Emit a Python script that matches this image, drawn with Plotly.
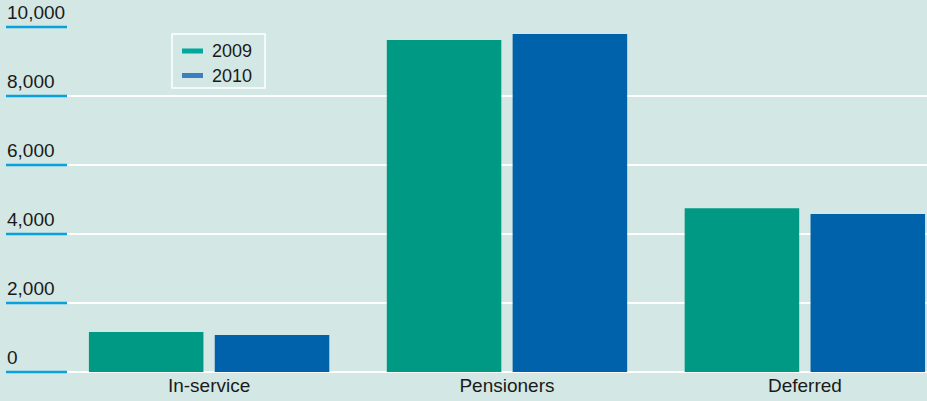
import plotly.graph_objects as go

categories = ["In-service", "Pensioners", "Deferred"]
series_names = ["2009", "2010"]
values_2009 = [1160, 9620, 4750]
values_2010 = [1070, 9800, 4580]
tick_values = [0, 2000, 4000, 6000, 8000, 10000]
tick_labels = ["0", "2,000", "4,000", "6,000", "8,000", "10,000"]
y_max = 10000

bar_colors = ["#009a84", "#0062aa"]
legend_colors = ["#00a99d", "#3d7ec0"]
bg = "#d3e8e4"
tick_blue = "#0aa0dc"
font_family = "Liberation Sans, Arial, sans-serif"
text_color = "#1a1a1a"

W, H = 927, 401
ML, MR, MT, MB = 67, 0, 27, 29
PW, PH = W - ML - MR, H - MT - MB


def px(x):
    return (x - ML) / PW


def py(y):
    return (H - MB - y) / PH


fig = go.Figure()
for name, vals, col in zip(series_names, [values_2009, values_2010], bar_colors):
    fig.add_trace(go.Bar(x=categories, y=vals, name=name, marker=dict(color=col, line=dict(width=0)),
                         showlegend=False))

shapes = []
annotations = []
# left blue tick marks and labels above them (paper coords derived from axis range)
for v, lab in zip(tick_values, tick_labels):
    yp = v / y_max
    shapes.append(dict(type="line", xref="paper", yref="paper", x0=px(6), x1=0, y0=yp, y1=yp,
                       line=dict(color=tick_blue, width=2.5)))
    annotations.append(dict(xref="paper", yref="paper", x=px(5), y=yp, text=lab, showarrow=False,
                            xanchor="left", yanchor="bottom", yshift=2,
                            font=dict(family=font_family, size=19, color=text_color)))

# legend box
shapes.append(dict(type="rect", xref="paper", yref="paper", x0=px(172), x1=px(265), y0=py(88), y1=py(34),
                   line=dict(color="white", width=1.5), fillcolor="rgba(0,0,0,0)"))
for i, (name, col) in enumerate(zip(series_names, legend_colors)):
    yc = 51 + 24.5 * i
    shapes.append(dict(type="rect", xref="paper", yref="paper", x0=px(182), x1=px(203),
                       y0=py(yc + 2.5), y1=py(yc - 2.5), line=dict(width=0), fillcolor=col))
    annotations.append(dict(xref="paper", yref="paper", x=px(210), y=py(yc), text=name, showarrow=False,
                            xanchor="left", yanchor="middle",
                            font=dict(family=font_family, size=18, color=text_color)))

fig.update_layout(
    width=W, height=H,
    margin=dict(l=ML, r=MR, t=MT, b=MB, pad=0),
    paper_bgcolor=bg, plot_bgcolor=bg,
    barmode="group", bargap=0.155, bargroupgap=0.09,
    font=dict(family=font_family, size=19, color=text_color),
    shapes=shapes, annotations=annotations,
    xaxis=dict(type="category", range=[-0.477, 2.41], showgrid=False, zeroline=False,
               showline=False, ticks="", tickfont=dict(size=19, color=text_color)),
    yaxis=dict(range=[0, y_max], tickvals=tick_values, showticklabels=False, showgrid=True,
               gridcolor="white", gridwidth=1.5, zeroline=True, zerolinecolor="white",
               zerolinewidth=1.5, showline=False, ticks=""),
)

fig.write_html("out.html")
